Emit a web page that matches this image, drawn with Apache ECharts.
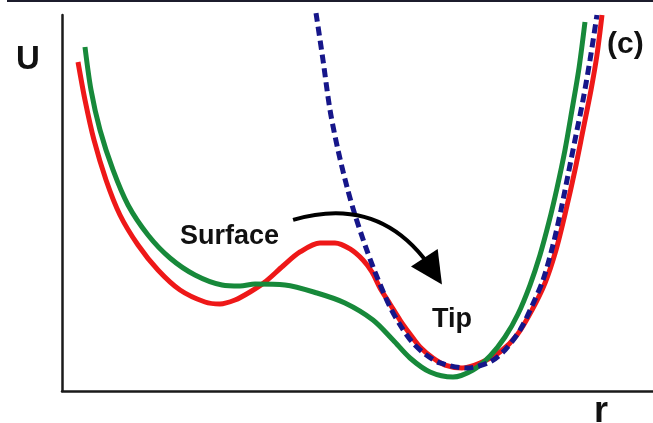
<!DOCTYPE html>
<html>
<head>
<meta charset="utf-8">
<script src="https://cdn.jsdelivr.net/npm/echarts@6/dist/echarts.min.js"></script>
<style>
	html, body { margin: 0; padding: 0; background: #fff; }
	#chart { width: 653px; height: 423px; }
</style>
</head>
<body>
<div id="chart"></div>
<script>
	// curves, r and U in arbitrary units (0-100)
	var surfaceR = [2.71, 3.89, 5.41, 7.45, 9.81, 12.86, 16.24, 19.97, 24.2, 26.73, 29.27, 31.81, 34.35, 37.39, 40.27, 43.65, 46.19, 48.73, 50.93, 52.45, 53.81, 55.5, 57.19, 58.88, 60.58, 62.77, 64.81, 67.68, 70.73, 74.11, 76.99, 79.53, 81.73, 83.59, 85.28, 86.8, 88.16, 89.51, 90.52, 91.37];
	var surfaceU = [87.5, 77.39, 66.76, 56.12, 46.81, 38.83, 32.18, 26.86, 23.67, 23.14, 24.2, 26.33, 28.99, 33.24, 36.97, 39.36, 39.36, 37.77, 34.84, 31.65, 27.39, 23.14, 18.88, 15.16, 11.7, 8.78, 6.91, 6.12, 7.45, 10.37, 14.89, 21.54, 28.72, 37.5, 48.14, 58.78, 69.41, 80.05, 89.36, 100.0];

	var combinedR = [3.89, 4.91, 6.43, 8.63, 11.17, 14.55, 18.27, 22.5, 27.07, 30.12, 32.66, 37.73, 43.15, 47.88, 52.62, 56.01, 58.88, 62.27, 66.16, 69.54, 72.42, 74.96, 77.16, 79.19, 80.88, 82.4, 83.76, 85.11, 86.29, 87.48, 88.49];
	var combinedU = [91.49, 80.05, 69.41, 58.78, 49.47, 41.49, 35.37, 30.85, 28.19, 27.93, 28.46, 28.19, 26.06, 23.4, 18.88, 13.56, 8.78, 5.05, 3.72, 5.59, 9.31, 14.36, 20.48, 28.19, 36.17, 44.95, 53.99, 64.1, 74.73, 85.9, 98.14];

	var tipR = [42.98, 44.16, 45.35, 46.7, 48.22, 49.58, 51.27, 52.96, 55.5, 57.53, 59.39, 61.42, 63.96, 68.53, 72.42, 74.96, 77.5, 79.53, 81.39, 83.08, 84.43, 85.62, 86.97, 88.16, 89.34, 90.52];
	var tipU = [100.53, 88.03, 74.73, 64.1, 54.26, 46.81, 38.83, 31.65, 22.34, 16.76, 12.77, 9.84, 7.45, 6.12, 7.71, 10.9, 16.22, 22.61, 29.52, 38.83, 48.14, 57.45, 68.09, 77.39, 88.03, 100.0];

	// arrow from "Surface" towards "Tip"
	var arrowFrom = [39.1, 45.5];
	var arrowTo = [62.8, 31.9];

	function pairs(xs, ys) {
		var out = [];
		for (var i = 0; i < xs.length; i++) out.push([xs[i], ys[i]]);
		return out;
	}

	var font = '"Liberation Sans", Arial, sans-serif';
	var chart = echarts.init(document.getElementById('chart'));
	var option = {
		animation: false,
		backgroundColor: '#fff',
		grid: { left: 62, right: 0, top: 15, bottom: 32 },
		xAxis: {
			type: 'value', min: 0, max: 100,
			axisLine: { show: true, lineStyle: { color: '#1a1a1a', width: 2.5 } },
			axisTick: { show: false }, axisLabel: { show: false }, splitLine: { show: false }
		},
		yAxis: {
			type: 'value', min: 0, max: 100,
			axisLine: { show: true, lineStyle: { color: '#1a1a1a', width: 2.5 } },
			axisTick: { show: false }, axisLabel: { show: false }, splitLine: { show: false }
		},
		graphic: [
			{ type: 'rect', shape: { x: 7, y: 0, width: 646, height: 2 }, style: { fill: '#1c1c2c' } },
			{ type: 'text', left: 16, top: 43, style: { text: 'U', font: 'bold 33px ' + font, fill: '#111' } },
			{ type: 'text', left: 607, top: 30, style: { text: '(c)', font: 'bold 30px ' + font, fill: '#111' } },
			{ type: 'text', left: 594, top: 394, style: { text: 'r', font: 'bold 36px ' + font, fill: '#111' } },
			{ type: 'text', left: 180, top: 223, style: { text: 'Surface', font: 'bold 27px ' + font, fill: '#111' } },
			{ type: 'text', left: 432, top: 306, style: { text: 'Tip', font: 'bold 27px ' + font, fill: '#111' } }
		],
		series: [
			{
				name: 'surface', type: 'line', data: pairs(surfaceR, surfaceU),
				smooth: 0.3, showSymbol: false, clip: false,
				lineStyle: { color: '#ee1818', width: 5 }
			},
			{
				name: 'combined', type: 'line', data: pairs(combinedR, combinedU),
				smooth: 0.3, showSymbol: false, clip: false,
				lineStyle: { color: '#17893a', width: 5 }
			},
			{
				name: 'tip', type: 'line', data: pairs(tipR, tipU),
				smooth: 0.3, showSymbol: false, clip: false,
				lineStyle: { color: '#16168a', width: 5, type: [9, 5], cap: 'butt' }
			},
			{
				name: 'arrow', type: 'lines', coordinateSystem: 'cartesian2d',
				silent: true, z: 5,
				symbol: ['none', 'triangle'], symbolSize: 32,
				lineStyle: { color: '#000', width: 4, opacity: 1, curveness: 0.37 },
				data: [{ coords: [arrowFrom, arrowTo] }]
			}
		]
	};
	chart.setOption(option);
</script>
</body>
</html>
